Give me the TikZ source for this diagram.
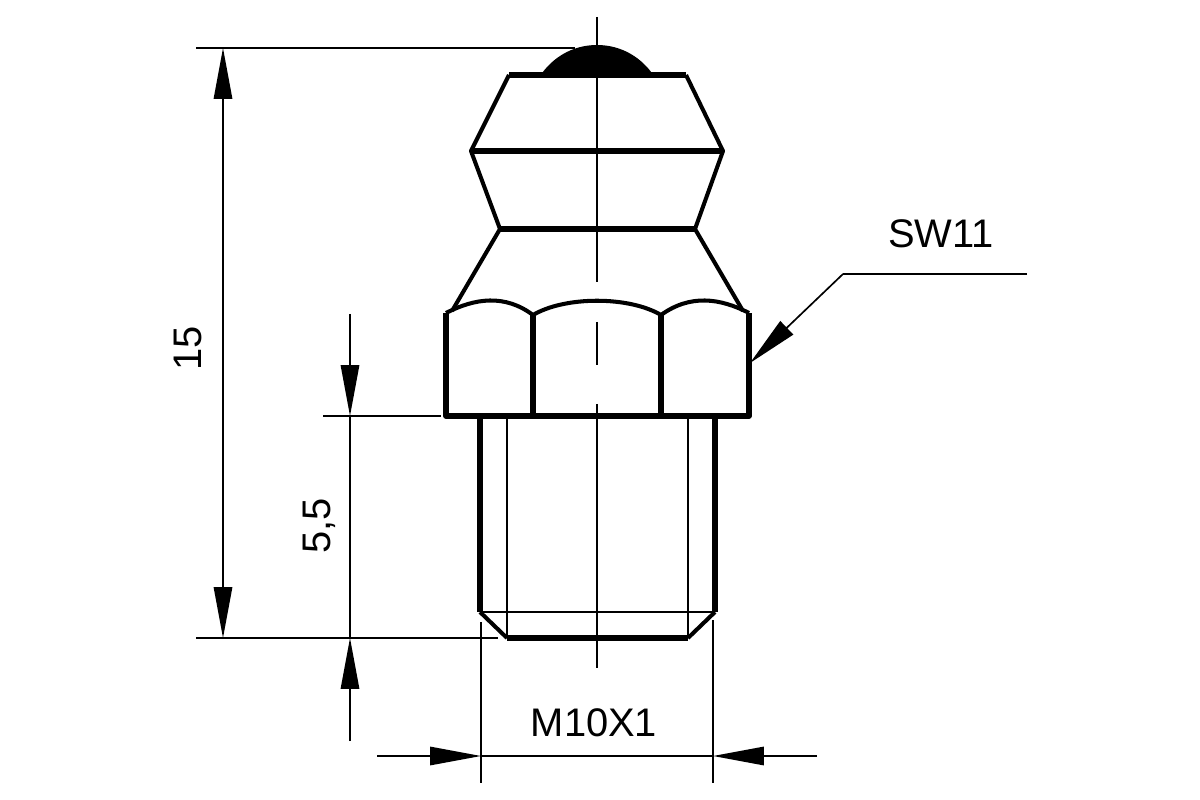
\documentclass[tikz,border=0pt]{standalone}
\usepackage{fontspec}
\setmainfont{Liberation Sans}
\usetikzlibrary{arrows.meta}

\begin{document}
\begin{tikzpicture}
[x=0.02cm,y=-0.02cm,
  thickLine/.style={line width=3pt,line join=round},%
  midLine/.style={line width=2.3pt,line join=round},%
  thinLine/.style={line width=0.95pt},%
  dimTip/.style={-{Triangle[length=29pt,width=10.5pt]},thinLine},%
  dimLabel/.style={inner sep=0pt,font=\fontsize{22.7}{25}\selectfont}]
\useasboundingbox (0,0) rectangle (1200,800);
%% outline points
\foreach \ptname/\x/\y in {capL/509/75, capR/686/75, domeL/540/76, domeR/654/76, domeTop/597/45,
  ringL/471/151, ringR/723/151, neckL/500/229, neckR/695/229, coneL/452/311, coneR/743/311,
  hexTL/446/313, hexTR/749/313, hexBL/446/416, hexBR/749/416,
  divTL/533/315, divTR/661/315, divBL/533/416, divBR/661/416,
  shankTL/480/416, shankTR/715/416, shankBL/480/612, shankBR/715/612,
  tipL/507/638, tipR/688/638, coreTL/507/416, coreTR/688/416}
{
  \coordinate (\ptname) at (\x,\y);
}
%% dimension points
\foreach \ptname/\x/\y in {axisA/597/17, axisB/597/282, axisC/597/322, axisD/597/365, axisE/597/404, axisF/597/668,
  topExtL/196/48, topExtR/575/48, botExtL/196/638, botExtR/498/638,
  dimTop/223/48, dimBot/223/638,
  shankDimA/350/314, shankDimB/350/416, shankDimC/350/741, shankDimD/350/638,
  hexExtL/323/416, hexExtR/441/416,
  widthExtLA/481/622, widthExtLB/481/783, widthExtRA/713/620, widthExtRB/713/783,
  widthDimA/377/756, widthDimB/481/756, widthDimC/817/756, widthDimD/713/756,
  leadEnd/1027/274, leadKnee/843/274, leadTip/750/363}
{
  \coordinate (\ptname) at (\x,\y);
}
%% ball
\fill (domeL) .. controls (552,58) and (572,45) .. (domeTop) .. controls (622,45) and (642,58) .. (domeR) -- cycle;
%% body
\draw[thickLine] (capL) -- (capR);
\draw[midLine] (capL) -- (ringL) -- (neckL) -- (coneL);
\draw[midLine] (capR) -- (ringR) -- (neckR) -- (coneR);
\draw[thickLine] (ringL) -- (ringR);
\draw[thickLine] (neckL) -- (neckR);
%% hexagon
\draw[thickLine] (hexTL) -- (hexBL) -- (hexBR) -- (hexTR);
\draw[thickLine] (divTL) -- (divBL);
\draw[thickLine] (divTR) -- (divBR);
\draw[midLine] (hexTL) .. controls (475,298) and (505,294) .. (divTL);
\draw[midLine] (divTL) .. controls (565,296) and (629,296) .. (divTR);
\draw[midLine] (divTR) .. controls (690,294) and (720,298) .. (hexTR);
%% threaded shank
\draw[thickLine] (shankTL) -- (shankBL);
\draw[thickLine] (shankTR) -- (shankBR);
\draw[midLine] (shankBL) -- (tipL);
\draw[midLine] (shankBR) -- (tipR);
\draw[thickLine] (tipL) -- (tipR);
\draw[thinLine] (shankBL) -- (shankBR);
\draw[thinLine] (coreTL) -- (tipL);
\draw[thinLine] (coreTR) -- (tipR);
%% centre line
\foreach \startpt/\endpt in {axisA/axisB, axisC/axisD, axisE/axisF}
{
  \draw[thinLine] (\startpt) -- (\endpt);
}
%% extension lines
\foreach \startpt/\endpt in {topExtL/topExtR, botExtL/botExtR, hexExtL/hexExtR, widthExtLA/widthExtLB, widthExtRA/widthExtRB}
{
  \draw[thinLine] (\startpt) -- (\endpt);
}
%% dimensions
\draw[thinLine,{Triangle[length=29pt,width=10.5pt]}-{Triangle[length=29pt,width=10.5pt]}] (dimTop) -- (dimBot);
\foreach \startpt/\endpt in {shankDimA/shankDimB, shankDimC/shankDimD, widthDimA/widthDimB, widthDimC/widthDimD, leadKnee/leadTip}
{
  \draw[dimTip] (\startpt) -- (\endpt);
}
\draw[thinLine] (widthDimB) -- (widthDimD);
\draw[thinLine] (shankDimB) -- (shankDimD);
\draw[thinLine] (leadEnd) -- (leadKnee);
%% labels
\node[dimLabel,rotate=90] (heightLabel) at (188,348) {15};
\node[dimLabel,rotate=90] (shankLabel) at (319,526) {5,5};
\node[dimLabel] (threadLabel) at (594,723) {M10X1};
\node[dimLabel] (flatsLabel) at (941,234) {SW11};
\end{tikzpicture}
\end{document}
